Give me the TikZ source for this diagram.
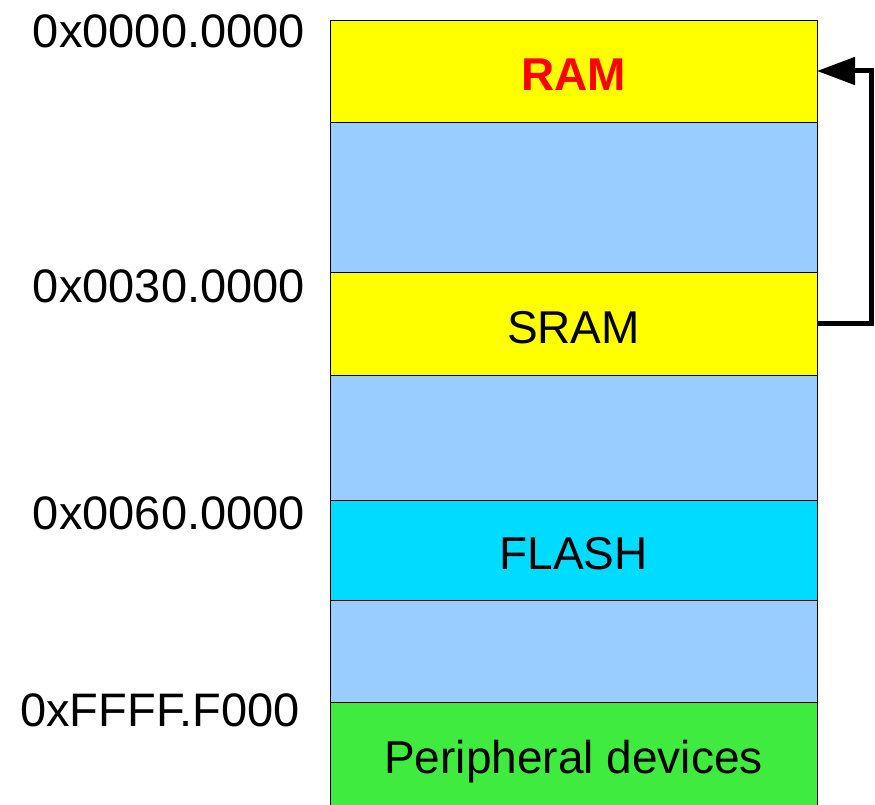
\documentclass[tikz,border=0pt]{standalone}
\usepackage{fontspec}
\setmainfont{Liberation Sans}
\usetikzlibrary{arrows.meta,positioning}
\definecolor{ramyellow}{HTML}{FFFF00}
\definecolor{freeblue}{HTML}{99CCFF}
\definecolor{flashcyan}{HTML}{00DCFF}
\definecolor{periphgreen}{HTML}{3EEB3E}

\begin{document}
\begin{tikzpicture}[x=1pt,y=-1pt,>=Latex,node distance=0pt,
seg/.style={draw,line width=0.8pt,minimum width=487pt,inner sep=0pt,outer sep=0pt,text height=39pt,text depth=0pt,font=\fontsize{46}{54}\selectfont},
addr/.style={anchor=base east,inner sep=0pt,font=\fontsize{47}{56}\selectfont},
link/.style={line width=5pt,arrows={-Triangle[length=38pt,width=27pt]}}]
\useasboundingbox (0,0) rectangle (875,805);
\node[seg,fill=ramyellow,minimum height=102pt,anchor=north west] (ram) at (330,20) {\textcolor{red}{\bfseries RAM}};
\node[seg,fill=freeblue,minimum height=150pt,below=of ram] (free1) {};
\node[seg,fill=ramyellow,minimum height=103pt,below=of free1] (sram) {SRAM};
\node[seg,fill=freeblue,minimum height=125pt,below=of sram] (free2) {};
\node[seg,fill=flashcyan,minimum height=100pt,below=of free2] (flash) {FLASH};
\node[seg,fill=freeblue,minimum height=102pt,below=of flash] (free3) {};
\node[seg,fill=periphgreen,minimum height=103pt,below=of free3] (periph) {Peripheral devices};
\node[addr] (a0) at (305,48) {0x0000.0000};
\node[addr] (a1) at (305,302) {0x0030.0000};
\node[addr] (a2) at (305,529) {0x0060.0000};
\node[addr] (a3) at (300,726) {0xFFFF.F000};
\draw[link] (sram.east) -- ++(54,0) |- (ram.east);
\end{tikzpicture}
\end{document}
